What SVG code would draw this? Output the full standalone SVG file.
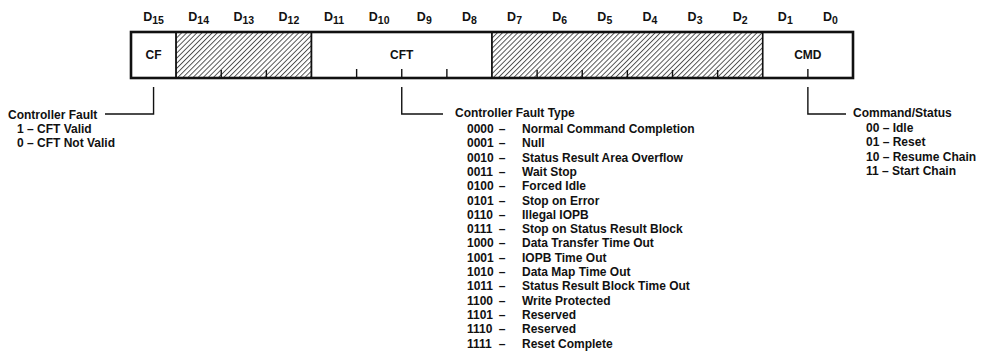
<svg xmlns="http://www.w3.org/2000/svg" width="986" height="353" viewBox="0 0 986 353">
<style>
text{font-family:"Liberation Sans",Arial,Helvetica,sans-serif;font-weight:bold;font-size:12px;fill:#111}
.bit{text-anchor:middle;font-size:12.5px}
.sub{font-size:10.5px}
.mid{text-anchor:middle}
.field{fill:#fff;stroke:#111;stroke-width:1.6}
.hatch{fill:url(#hatch);stroke:#111;stroke-width:1.6}
.tick{stroke:#111;stroke-width:1.4}
.lead{stroke:#111;stroke-width:1.4;fill:none}
.dash{text-anchor:middle}
</style>
<defs>
<pattern id="hatch" patternUnits="userSpaceOnUse" width="3.6" height="10" patternTransform="rotate(45)">
<rect width="3.6" height="10" fill="#fff"/>
<line x1="0.5" y1="0" x2="0.5" y2="10" stroke="#222" stroke-width="0.8"/>
</pattern>
</defs>
<g id="bit-labels">
<text class="bit" x="153.56" y="21">D<tspan class="sub" dy="3">15</tspan></text>
<text class="bit" x="198.69" y="21">D<tspan class="sub" dy="3">14</tspan></text>
<text class="bit" x="243.81" y="21">D<tspan class="sub" dy="3">13</tspan></text>
<text class="bit" x="288.94" y="21">D<tspan class="sub" dy="3">12</tspan></text>
<text class="bit" x="334.06" y="21">D<tspan class="sub" dy="3">11</tspan></text>
<text class="bit" x="379.19" y="21">D<tspan class="sub" dy="3">10</tspan></text>
<text class="bit" x="424.31" y="21">D<tspan class="sub" dy="3">9</tspan></text>
<text class="bit" x="469.44" y="21">D<tspan class="sub" dy="3">8</tspan></text>
<text class="bit" x="514.56" y="21">D<tspan class="sub" dy="3">7</tspan></text>
<text class="bit" x="559.69" y="21">D<tspan class="sub" dy="3">6</tspan></text>
<text class="bit" x="604.81" y="21">D<tspan class="sub" dy="3">5</tspan></text>
<text class="bit" x="649.94" y="21">D<tspan class="sub" dy="3">4</tspan></text>
<text class="bit" x="695.06" y="21">D<tspan class="sub" dy="3">3</tspan></text>
<text class="bit" x="740.19" y="21">D<tspan class="sub" dy="3">2</tspan></text>
<text class="bit" x="785.31" y="21">D<tspan class="sub" dy="3">1</tspan></text>
<text class="bit" x="830.44" y="21">D<tspan class="sub" dy="3">0</tspan></text>
</g>
<g id="field-cf">
<rect class="field" x="131" y="32" width="45.125" height="46"/>
<text class="mid" x="153.56" y="59">CF</text>
</g>
<g id="field-reserved-high">
<rect class="hatch" x="176.125" y="32" width="135.375" height="46"/>
<line class="tick" x1="221.25" y1="70" x2="221.25" y2="78"/>
<line class="tick" x1="266.375" y1="70" x2="266.375" y2="78"/>
</g>
<g id="field-cft">
<rect class="field" x="311.5" y="32" width="180.5" height="46"/>
<text class="mid" x="401.75" y="59">CFT</text>
<line class="tick" x1="356.625" y1="69" x2="356.625" y2="78"/>
<line class="tick" x1="401.75" y1="69" x2="401.75" y2="78"/>
<line class="tick" x1="446.875" y1="69" x2="446.875" y2="78"/>
</g>
<g id="field-reserved-low">
<rect class="hatch" x="492" y="32" width="270.75" height="46"/>
<line class="tick" x1="537.125" y1="70" x2="537.125" y2="78"/>
<line class="tick" x1="582.25" y1="70" x2="582.25" y2="78"/>
<line class="tick" x1="627.375" y1="70" x2="627.375" y2="78"/>
<line class="tick" x1="672.5" y1="70" x2="672.5" y2="78"/>
<line class="tick" x1="717.625" y1="70" x2="717.625" y2="78"/>
</g>
<g id="field-cmd">
<rect class="field" x="762.75" y="32" width="90.25" height="46"/>
<text class="mid" x="807.875" y="59">CMD</text>
<line class="tick" x1="807.875" y1="69" x2="807.875" y2="78"/>
</g>
<rect x="131" y="32" width="722" height="46" fill="none" stroke="#111" stroke-width="2.6"/>
<g id="connectors">
<polyline class="lead" points="153.56,87 153.56,114 105,114"/>
<polyline class="lead" points="401.75,87 401.75,114 443,114"/>
<polyline class="lead" points="807.875,87 807.875,114 846,114"/>
</g>
<g id="legend-cf">
<text x="8" y="119">Controller Fault</text>
<text x="17" y="133">1 – CFT Valid</text>
<text x="17" y="147">0 – CFT Not Valid</text>
</g>
<g id="legend-cft">
<text x="455" y="117">Controller Fault Type</text>
<g>
<text x="467" y="133">0000</text><text class="dash" x="502" y="133">–</text><text x="522" y="133">Normal Command Completion</text>
<text x="467" y="147.3">0001</text><text class="dash" x="502" y="147.3">–</text><text x="522" y="147.3">Null</text>
<text x="467" y="161.6">0010</text><text class="dash" x="502" y="161.6">–</text><text x="522" y="161.6">Status Result Area Overflow</text>
<text x="467" y="175.9">0011</text><text class="dash" x="502" y="175.9">–</text><text x="522" y="175.9">Wait Stop</text>
<text x="467" y="190.2">0100</text><text class="dash" x="502" y="190.2">–</text><text x="522" y="190.2">Forced Idle</text>
<text x="467" y="204.5">0101</text><text class="dash" x="502" y="204.5">–</text><text x="522" y="204.5">Stop on Error</text>
<text x="467" y="218.8">0110</text><text class="dash" x="502" y="218.8">–</text><text x="522" y="218.8">Illegal IOPB</text>
<text x="467" y="233.1">0111</text><text class="dash" x="502" y="233.1">–</text><text x="522" y="233.1">Stop on Status Result Block</text>
<text x="467" y="247.4">1000</text><text class="dash" x="502" y="247.4">–</text><text x="522" y="247.4">Data Transfer Time Out</text>
<text x="467" y="261.7">1001</text><text class="dash" x="502" y="261.7">–</text><text x="522" y="261.7">IOPB Time Out</text>
<text x="467" y="276">1010</text><text class="dash" x="502" y="276">–</text><text x="522" y="276">Data Map Time Out</text>
<text x="467" y="290.3">1011</text><text class="dash" x="502" y="290.3">–</text><text x="522" y="290.3">Status Result Block Time Out</text>
<text x="467" y="304.6">1100</text><text class="dash" x="502" y="304.6">–</text><text x="522" y="304.6">Write Protected</text>
<text x="467" y="318.9">1101</text><text class="dash" x="502" y="318.9">–</text><text x="522" y="318.9">Reserved</text>
<text x="467" y="333.2">1110</text><text class="dash" x="502" y="333.2">–</text><text x="522" y="333.2">Reserved</text>
<text x="467" y="347.5">1111</text><text class="dash" x="502" y="347.5">–</text><text x="522" y="347.5">Reset Complete</text>
</g>
</g>
<g id="legend-cmd">
<text x="853" y="117">Command/Status</text>
<text x="866" y="132">00 – Idle</text>
<text x="866" y="146.3">01 – Reset</text>
<text x="866" y="160.6">10 – Resume Chain</text>
<text x="866" y="174.9">11 – Start Chain</text>
</g>
</svg>
